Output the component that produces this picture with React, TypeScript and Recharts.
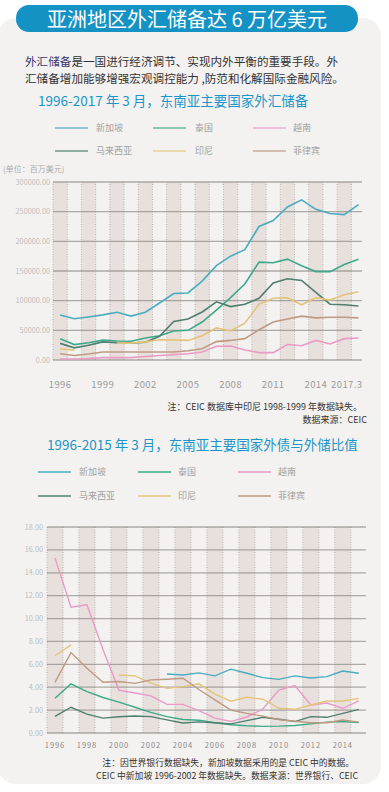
import React from 'react';
import { LineChart, Line, XAxis, YAxis, ReferenceArea, ReferenceLine } from 'recharts';

const FONT = '"Noto Sans CJK SC", "Noto Sans", sans-serif';

// series: 新加坡, 泰国, 越南, 马来西亚, 印尼, 菲律宾
const countries = ['新加坡', '泰国', '越南', '马来西亚', '印尼', '菲律宾'];
const seriesKeys = ['sg', 'th', 'vn', 'my', 'id', 'ph'];
const colors = ['#4aacc0', '#3ea98a', '#e99bc6', '#4e7f70', '#e4c47c', '#bf9a82'];

// chart 1: foreign reserves, million USD (last point = 2017.3)
const reserveYears = [1996, 1997, 1998, 1999, 2000, 2001, 2002, 2003, 2004, 2005, 2006, 2007, 2008, 2009, 2010, 2011, 2012, 2013, 2014, 2015, 2016, 2017];
const reserveSg = [76000, 69500, 72500, 76000, 80500, 74000, 80500, 96000, 112000, 113000, 133000, 159000, 175000, 186000, 225000, 235000, 258000, 270000, 254000, 247000, 245000, 262000];
const reserveTh = [36000, 26000, 29000, 33500, 32000, 31500, 37000, 41000, 49000, 50000, 64000, 84000, 105000, 128000, 165000, 164000, 170000, 159000, 149000, 149000, 161000, 170000];
const reserveVn = [1700, 1800, 2500, 4000, 4000, 4000, 6000, 7500, 9000, 10500, 13500, 23000, 23500, 17000, 12500, 12500, 26000, 24000, 33000, 27000, 36000, 37000];
const reserveMy = [28000, 20500, 25000, 30500, 29000, 28500, 30000, 40000, 65000, 69000, 81000, 98000, 90000, 94000, 104000, 130000, 137000, 134000, 114000, 94000, 93000, 91000];
const reserveId = [19000, 16700, null, null, 28500, 28500, 30500, 34000, 34000, 33000, 41000, 54000, 49000, 62000, 94000, 104000, 105000, 93000, 105000, 101000, 110000, 115000];
const reservePh = [10500, 7500, 10000, 13500, 13500, 13500, 13500, 13500, 13500, 15500, 19000, 31000, 33000, 36000, 51000, 64000, 69000, 74000, 71000, 72000, 72000, 71000];
const reserveTicks = [1996, 1999, 2002, 2005, 2008, 2011, 2014, 2017];
const reserveTickLabels = ['1996', '1999', '2002', '2005', '2008', '2011', '2014', '2017.3'];
const reserveYTicks = [0, 50000, 100000, 150000, 200000, 250000, 300000];

// chart 2: external debt / reserves ratio
const ratioYears = [1996, 1997, 1998, 1999, 2000, 2001, 2002, 2003, 2004, 2005, 2006, 2007, 2008, 2009, 2010, 2011, 2012, 2013, 2014, 2015];
const ratioSg = [null, null, null, null, null, null, null, 5.15, 5.07, 5.25, 4.99, 5.58, 5.22, 4.84, 4.69, 4.99, 4.8, 4.93, 5.42, 5.22];
const ratioTh = [3.03, 4.29, 3.62, 3.1, 2.7, 2.25, 1.8, 1.43, 1.18, 1.12, 0.9, 0.72, 0.63, 0.58, 0.6, 0.66, 0.8, 0.95, 1.0, 0.92];
const ratioVn = [15.3, 11.0, 11.2, 7.3, 3.75, 3.5, 3.25, 2.5, 2.5, 1.95, 1.3, 1.0, 1.4, 2.1, 3.75, 4.15, 2.45, 2.62, 2.16, 2.8];
const ratioMy = [1.45, 2.25, 1.65, 1.3, 1.42, 1.48, 1.43, 1.15, 0.87, 0.97, 0.9, 0.8, 1.08, 1.37, 1.2, 1.0, 1.43, 1.37, 1.72, 2.07];
const ratioId = [6.75, 7.7, null, null, 5.07, 4.99, 4.35, 3.9, 4.05, 4.3, 3.4, 2.78, 3.12, 2.95, 2.16, 2.07, 2.45, 2.8, 2.8, 3.03];
const ratioPh = [4.43, 7.03, 5.66, 4.43, 4.5, 4.34, 4.64, 4.7, 4.78, 3.8, 2.9, 2.01, 1.72, 1.47, 1.17, 1.03, 0.9, 0.9, 1.14, 0.95];
const ratioTicks = [1996, 1998, 2000, 2002, 2004, 2006, 2008, 2010, 2012, 2014];
const ratioYTicks = [0, 2, 4, 6, 8, 10, 12, 14, 16, 18];

const reserveSeries = [reserveSg, reserveTh, reserveVn, reserveMy, reserveId, reservePh];
const ratioSeries = [ratioSg, ratioTh, ratioVn, ratioMy, ratioId, ratioPh];

const buildRows = (years: number[], series: (number | null)[][]) =>
  years.map((year, i) => {
    const row: any = { year };
    seriesKeys.forEach((k, j) => (row[k] = series[j][i]));
    return row;
  });

const reserveData = buildRows(reserveYears, reserveSeries);
const ratioData = buildRows(ratioYears, ratioSeries);

const reserveStripes = reserveYears.filter((y) => y % 2 === 0);
const ratioStripes = ratioYears.filter((y) => y % 2 === 0);

const ReserveXTick = (props: any) => {
  const { x, y, payload } = props;
  const last = payload.value === 2017;
  return (
    <text x={last ? x + 4 : x} y={y + 28} textAnchor={last ? 'end' : 'middle'} fontSize={9.5} fill="#9a9a9a" fontFamily={FONT} letterSpacing={0.4}>
      {reserveTickLabels[reserveTicks.indexOf(payload.value)]}
    </text>
  );
};

const RatioXTick = (props: any) => {
  const { x, y, payload } = props;
  return (
    <text x={x} y={y + 15} textAnchor="middle" fontSize={7.5} fill="#8a8a8a" fontFamily={FONT} letterSpacing={0.9}>
      {payload.value}
    </text>
  );
};

const YTick = (props: any) => {
  const { x, y, payload, gap } = props;
  return (
    <text x={x - gap} y={y} dy="0.35em" textAnchor="end" fontSize={7.3} fill="#bdbdbd" fontFamily={FONT}>
      {Number(payload.value).toFixed(2)}
    </text>
  );
};

function Legend({ top, lineX, textX, rowGap, faded }: { top: number; lineX: number[]; textX: number[]; rowGap: number; faded: number }) {
  return (
    <>
      {countries.map((name, i) => {
        const col = i % 3;
        const row = Math.floor(i / 3);
        const cy = top + row * rowGap;
        return (
          <React.Fragment key={name}>
            <div style={{ position: 'absolute', left: lineX[col], top: cy - 1, width: 33, height: 2, background: colors[i], opacity: faded }} />
            <div style={{ position: 'absolute', left: textX[col], top: cy - 7, height: 14, lineHeight: '14px', fontSize: 9, color: '#a3a3a3', whiteSpace: 'nowrap' }}>{name}</div>
          </React.Fragment>
        );
      })}
    </>
  );
}

function Stripes(stripes: number[], yMax: number) {
  const out: React.ReactNode[] = [];
  stripes.forEach((s) => {
    out.push(<ReferenceArea key={'a' + s} x1={s - 0.5} x2={s + 0.5} y1={0} y2={yMax} fill="#e7e0dc" fillOpacity={1} stroke="none" />);
  });
  stripes.forEach((s) => {
    out.push(<ReferenceLine key={'l' + s} x={s - 0.5} stroke="#bdb4b0" strokeDasharray="1 1.5" />);
    out.push(<ReferenceLine key={'r' + s} x={s + 0.5} stroke="#bdb4b0" strokeDasharray="1 1.5" />);
  });
  return out;
}

const note = (top: number, right: number, size: number, text: string) => (
  <div style={{ position: 'absolute', right, top, fontSize: size, lineHeight: '12px', color: '#333', whiteSpace: 'nowrap', textAlign: 'right' }}>{text}</div>
);

export default function App() {
  return (
    <div style={{ position: 'absolute', left: 0, top: 0, width: 389, height: 792, background: '#fff', overflow: 'hidden', fontFamily: FONT }}>
      <div style={{ position: 'absolute', left: -2, top: 18, width: 383, height: 766, background: '#f3f2f0', borderRadius: 18 }} />
      <div style={{ position: 'absolute', left: 16, top: 5, width: 342, height: 27, borderRadius: 13, background: '#1592c4', color: '#fff', fontSize: 20, lineHeight: '27px', textAlign: 'center', whiteSpace: 'nowrap' }}>
        亚洲地区外汇储备达 6 万亿美元
      </div>

      <div style={{ position: 'absolute', left: 25, top: 53, fontSize: 11.6, lineHeight: '17px', color: '#333', whiteSpace: 'nowrap' }}>
        <div><span style={{ color: '#3b3870' }}>外汇储备</span>是一国进行经济调节、实现内外平衡的重要手段。外</div>
        <div>汇储备增加能够增强宏观调控能力 ,防范和化解国际金融风险。</div>
      </div>

      <div style={{ position: 'absolute', left: 38, top: 92, fontSize: 13.5, lineHeight: '16px', color: '#1b96c8', whiteSpace: 'nowrap' }}>
        1996-2017 年 3 月，东南亚主要国家外汇储备
      </div>
      <Legend top={128} lineX={[55, 153, 253]} textX={[96, 195, 293]} rowGap={23} faded={0.6} />
      <div style={{ position: 'absolute', left: 3, top: 163, fontSize: 8, lineHeight: '12px', color: '#ababab', whiteSpace: 'nowrap' }}>(单位：百万美元)</div>

      <div style={{ position: 'absolute', left: 0, top: 170 }}>
        <LineChart width={389} height={225} data={reserveData} margin={{ top: 12, right: 27, bottom: 5, left: 0 }}>
          <XAxis dataKey="year" type="number" domain={[1995.5, 2017.25]} ticks={reserveTicks} interval={0} tick={<ReserveXTick />} tickLine={false} axisLine={false} tickSize={0} tickMargin={0} height={30} allowDataOverflow />
          <YAxis type="number" domain={[0, 300000]} ticks={reserveYTicks} interval={0} tick={<YTick gap={3} />} tickLine={false} axisLine={false} tickSize={0} tickMargin={0} width={53} />
          {Stripes(reserveStripes, 300000)}
          {reserveYTicks.map((v) => (
            <ReferenceLine key={'g' + v} y={v} stroke="#7d7874" strokeOpacity={0.6} strokeWidth={1.3} />
          ))}
          {seriesKeys.map((k, i) => (
            <Line key={k} dataKey={k} type="linear" stroke={colors[i]} strokeWidth={1.6} dot={false} connectNulls={false} isAnimationActive={false} />
          ))}
        </LineChart>
      </div>

      {note(401, 27, 9, '注：CEIC 数据库中印尼 1998-1999 年数据缺失。')}
      {note(414, 22, 9, '数据来源：CEIC')}

      <div style={{ position: 'absolute', left: 47, top: 436, fontSize: 13.5, lineHeight: '16px', color: '#1b96c8', whiteSpace: 'nowrap' }}>
        1996-2015 年 3 月，东南亚主要国家外债与外储比值
      </div>
      <Legend top={472} lineX={[38, 138, 238]} textX={[79, 178, 278]} rowGap={24} faded={0.75} />

      <div style={{ position: 'absolute', left: 0, top: 515 }}>
        <LineChart width={389} height={245} data={ratioData} margin={{ top: 12, right: 23, bottom: 5, left: 0 }}>
          <XAxis dataKey="year" type="number" domain={[1995.5, 2015.45]} ticks={ratioTicks} interval={0} tick={<RatioXTick />} tickLine={false} axisLine={false} tickSize={0} tickMargin={0} height={22} allowDataOverflow />
          <YAxis type="number" domain={[0, 18]} ticks={ratioYTicks} interval={0} tick={<YTick gap={4} />} tickLine={false} axisLine={false} tickSize={0} tickMargin={0} width={47} />
          {Stripes(ratioStripes, 18)}
          {ratioYTicks.map((v) => (
            <ReferenceLine key={'g' + v} y={v} stroke="#7d7874" strokeOpacity={0.6} strokeWidth={1.3} />
          ))}
          {seriesKeys.map((k, i) => (
            <Line key={k} dataKey={k} type="linear" stroke={colors[i]} strokeWidth={1.4} dot={false} connectNulls={false} isAnimationActive={false} />
          ))}
        </LineChart>
      </div>

      {note(757, 35, 8.8, '注：因世界银行数据缺失，新加坡数据采用的是 CEIC 中的数据。')}
      {note(770, 31, 8.8, 'CEIC 中新加坡 1996-2002 年数据缺失。数据来源：世界银行、CEIC')}
    </div>
  );
}
